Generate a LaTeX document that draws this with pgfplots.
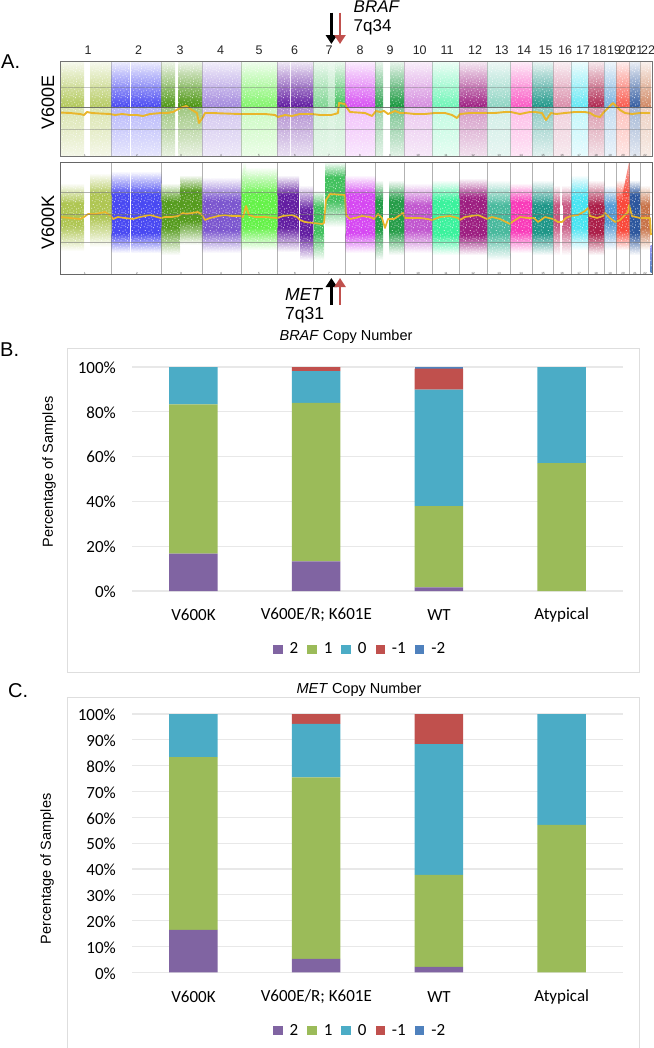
\documentclass[border=0pt]{standalone}
\usepackage{fontspec}
\usepackage{pgfplots}
\usepackage{pgfplotstable}
\pgfplotsset{compat=1.18}
\usetikzlibrary{arrows.meta,patterns}
\setmainfont{Liberation Sans}
\newfontfamily\calib{Carlito}
\newcommand{\fs}[1]{\fontsize{#1bp}{#1bp}\selectfont}

\definecolor{cA}{HTML}{A4BE3C}\definecolor{cB}{HTML}{3030F0}\definecolor{cC}{HTML}{3F8E00}
\definecolor{cD}{HTML}{6A40C8}\definecolor{cE}{HTML}{50F030}\definecolor{cF}{HTML}{4E0095}
\definecolor{cG}{HTML}{28B848}\definecolor{cH}{HTML}{D030F0}\definecolor{cI}{HTML}{089030}
\definecolor{cJ}{HTML}{B840C8}\definecolor{cK}{HTML}{20F090}\definecolor{cL}{HTML}{900070}
\definecolor{cM}{HTML}{30B090}\definecolor{cN}{HTML}{F820B0}\definecolor{cO}{HTML}{008878}
\definecolor{cP}{HTML}{C04070}\definecolor{cQ}{HTML}{30E0F0}\definecolor{cR}{HTML}{A00030}
\definecolor{cS}{HTML}{4090D0}\definecolor{cT}{HTML}{F83020}\definecolor{cU}{HTML}{104090}
\definecolor{cV}{HTML}{C06030}
\definecolor{orangeline}{HTML}{E9B62C}
\definecolor{purp}{HTML}{8064A2}\definecolor{gree}{HTML}{9BBB59}\definecolor{teal2}{HTML}{4BACC6}
\definecolor{redd}{HTML}{C0504D}\definecolor{blu}{HTML}{4F81BD}
\definecolor{frm}{HTML}{DEDEDE}\definecolor{grd}{HTML}{E8E8E8}

% fixed grain tile laid over the panels, so that the bands do not read as flat blocks
\pgfdeclarepatternformonly{grain}{\pgfqpoint{0bp}{0bp}}{\pgfqpoint{13bp}{13bp}}{\pgfqpoint{13bp}{13bp}}{%
  \foreach \a/\b in {1/2,4/1,7/3,11/1,2/5,5/6,9/5,12/7,0.5/8,3.5/9,7/8,10/10,2/12,6/11,8.5/12.5,12/4,5/3.5,9/2}{%
    \pgfpathrectangle{\pgfqpoint{\a bp}{\b bp}}{\pgfqpoint{0.8bp}{0.8bp}}\pgfusepath{fill}}%
}

% upper panel: x0 x1 colour peak-strength low-strength
\newcommand{\upseg}[5]{%
  \addplot[draw=none,top color=#3!8,bottom color=#3!#4] coordinates {(#1,61)(#2,61)(#2,107)(#1,107)};
  \addplot[draw=none,top color=#3!#5,bottom color=#3!12] coordinates {(#1,107)(#2,107)(#2,156)(#1,156)};
}
% lower panel: x0 x1 top coretop corebottom bottom colour
\newcommand{\lowseg}[7]{%
  \pgfmathsetmacro\ta{#3-5}\pgfmathsetmacro\tb{#4+5}%
  \pgfmathsetmacro\ba{#5-5}\pgfmathsetmacro\bb{#6+5}%
  \addplot[draw=none,top color=white,bottom color=#7!88] coordinates {(#1,\ta)(#2,\ta)(#2,\tb)(#1,\tb)};
  \addplot[draw=none,fill=#7!88] coordinates {(#1,\tb)(#2,\tb)(#2,\ba)(#1,\ba)};
  \addplot[draw=none,top color=#7!88,bottom color=white] coordinates {(#1,\ba)(#2,\ba)(#2,\bb)(#1,\bb)};
}

\pgfplotstableread{
idx two one zero mone mtwo
0 16.7 66.6 16.7 0 0
1 13.2 70.8 14.2 1.8 0
2 1.6 36.3 52.0 9.4 0.7
3 0 57.1 42.9 0 0
}\dataB
\pgfplotstableread{
idx two one zero mone mtwo
0 16.4 66.9 16.7 0 0
1 5.2 70.3 20.7 3.8 0
2 2.1 35.6 50.6 11.7 0
3 0 57.1 42.9 0 0
}\dataC

\pgfplotsset{
  stackchart/.style={
    scale only axis,width=491bp,
    ybar stacked,bar width=48.5bp,
    xmin=-0.5,xmax=3.5,ymin=0,ymax=100,
    xtick={0,1,2,3},xticklabels={},yticklabels={},
    axis line style={draw=none},
    tick style={draw=none},
    ymajorgrids,grid style={grd,line width=1.1bp},
    legend columns=5,
    legend cell align=left,
    legend image code/.code={\path[##1,draw=none] (0bp,-4.5bp) rectangle (9.5bp,4.5bp);},
    legend style={draw=none,fill=none,font=\calib\fs{17},inner sep=0pt,
      /tikz/every even column/.style={column sep=7bp},
      /tikz/every odd column/.style={column sep=5bp}},
  },
  chromaxis/.style={
    scale only axis,width=591.7bp,xmin=60.3,xmax=652,y dir=reverse,
    axis on top,clip=true,
    xtick={111.7,161.5,201.8,240.8,277.5,313,345.7,375.3,404.2,432,459.5,487.2,510.7,532.4,553.4,571,588.3,604.5,616.5,629.7,640},
    xticklabels={},
    xmajorgrids,ymajorgrids,
    tick style={draw=none},
    extra x ticks={85,137,181,221,259,295,329,360,390,418,446,473,499,521,543,562,579,596,610,623,635,645},
    extra x tick labels={1,2,3,4,5,6,7,8,9,10,11,12,13,14,15,16,17,18,19,20,21,22},
    extra x tick style={grid=none,tick style={draw=none},major tick length=0pt,
       tick label style={font=\fs{3},text=black!70,yshift=1.5bp,inner sep=0pt}},
  },
}

\begin{document}
\begin{tikzpicture}
\path[use as bounding box] (0bp,0bp) rectangle (654bp,-1048bp);

% ---------- Panel A, V600E
\begin{axis}[chromaxis,at={(60.3bp,-156bp)},anchor=south west,height=95bp,ymin=61,ymax=156,
  ytick={87,129},
  axis line style={draw=black!55,line width=.6bp},
  grid style={draw=black!60,opacity=.35,line width=.5bp},
  extra y ticks={107},
  extra y tick labels={},
  extra y tick style={grid style={draw=black!70,line width=.5bp,opacity=.75}},
  yticklabels={}]
\upseg{60.3}{84}{cA}{85}{42}
\upseg{90.3}{111.7}{cA}{80}{42}
\upseg{111.7}{129.5}{cB}{88}{35}
\upseg{131}{161.7}{cB}{88}{35}
\upseg{161.7}{175}{cC}{92}{50}
\upseg{178}{202}{cC}{95}{50}
\upseg{202}{241}{cD}{62}{30}
\upseg{241}{277.7}{cE}{72}{30}
\upseg{277.7}{290}{cF}{90}{45}
\upseg{291}{313.3}{cF}{90}{45}
\upseg{313.3}{328}{cG}{60}{22}
\upseg{328}{335.5}{cG}{38}{18}
\upseg{335.5}{345.7}{cG}{90}{22}
\upseg{345.7}{375.3}{cH}{85}{30}
\upseg{375.3}{383}{cI}{85}{40}
\upseg{390}{404.3}{cI}{95}{55}
\upseg{404.3}{432.7}{cJ}{60}{28}
\upseg{432.7}{459.3}{cK}{65}{28}
\upseg{459.3}{487.3}{cL}{88}{40}
\upseg{487.3}{511}{cM}{55}{22}
\upseg{511}{532.7}{cN}{75}{30}
\upseg{532.7}{553.7}{cO}{88}{45}
\upseg{553.7}{571}{cP}{60}{25}
\upseg{571}{588.3}{cQ}{75}{30}
\upseg{588.3}{604.7}{cR}{85}{40}
\upseg{604.7}{616.7}{cS}{70}{30}
\upseg{616.7}{630}{cT}{80}{30}
\upseg{630}{640}{cU}{85}{38}
\upseg{640}{651}{cV}{75}{30}
\addplot[draw=none,pattern=grain,pattern color=white] coordinates {(60.3,61)(652,61)(652,156)(60.3,156)};
\addplot[orangeline,line width=1.9bp,line join=round] coordinates {
(60,112.5)(70,113)(80,114)(84,115)(87,112)(92,113)(100,113.5)(110,114)(115,115)(122,114)(130,115)(137,115)(143,116)(150,114)(161,113)(167,113)(173,112)(180,108)(186,106)(192,110)(197,113)(199,123)(203,117)(205,113)(212,113)(225,113.5)(240,114)(250,114)(265,114)(275,115)(278,117)(285,115)(292,116)(300,114)(312,114)(320,115)(331,115)(335,114)(338,113)(339,103)(345,104)(347,108)(350,112)(365,113)(372,116)(376,111)(380,112)(384,111)(388,114)(395,111)(400,113)(405,113)(415,114)(425,114)(435,113)(445,113)(452,115)(457,118)(460,114)(470,113)(486,113)(495,113)(505,112)(511,112)(520,114)(530,112)(535,112)(542,113)(546,120)(551,113)(556,114)(565,113)(575,112)(585,112)(590,113)(595,116)(600,117)(604,112)(610,106)(613,103)(616,106)(620,110)(625,113)(632,114)(640,113)(650,113)};
\end{axis}

% ---------- Panel A, V600K
\begin{axis}[chromaxis,at={(60.3bp,-274bp)},anchor=south west,height=112bp,ymin=162,ymax=274,
  ytick={192,214,242},
  axis line style={draw=black!60,line width=.7bp},
  grid style={draw=black!55,opacity=.55,line width=.6bp},
  extra x tick style={grid=none},
  yticklabels={}]
\lowseg{60.3}{84}{188}{198}{230}{246}{cA}
\lowseg{90}{111.7}{178}{190}{222}{242}{cA}
\lowseg{111.7}{129.5}{176}{190}{238}{248}{cB}
\lowseg{131}{161.5}{176}{190}{238}{248}{cB}
\lowseg{161.5}{180}{188}{196}{232}{250}{cC}
\lowseg{180}{201.8}{180}{186}{226}{240}{cC}
\lowseg{201.8}{240.8}{182}{195}{235}{248}{cD}
\lowseg{240.8}{277.5}{172}{190}{232}{245}{cE}
\lowseg{277.5}{299}{180}{190}{232}{247}{cF}
\lowseg{300}{313}{190}{205}{240}{255}{cF}
\lowseg{313.5}{324}{195}{202}{238}{255}{cG}
\lowseg{325}{345.7}{167}{172}{205}{222}{cG}
\lowseg{345.7}{375.3}{180}{190}{238}{248}{cH}
\lowseg{375.3}{383}{185}{195}{235}{255}{cI}
\lowseg{389}{404.2}{185}{195}{236}{250}{cI}
\lowseg{404.2}{432}{188}{200}{235}{248}{cJ}
\lowseg{432}{459.5}{185}{195}{240}{250}{cK}
\lowseg{459.5}{487.2}{183}{193}{240}{250}{cL}
\lowseg{487.2}{510.7}{185}{200}{238}{255}{cM}
\lowseg{510.7}{532.4}{188}{197}{236}{248}{cN}
\lowseg{532.4}{553.4}{185}{200}{238}{250}{cO}
\lowseg{553.4}{560}{190}{200}{230}{250}{cP}
\lowseg{562.5}{571}{190}{200}{230}{250}{cP}
\lowseg{571}{588.3}{180}{192}{232}{245}{cQ}
\lowseg{588.3}{604.5}{185}{200}{238}{250}{cR}
\lowseg{604.5}{616.5}{190}{200}{228}{245}{cS}
\lowseg{616.5}{629.7}{185}{195}{235}{245}{cT}
\lowseg{630}{640}{185}{190}{238}{250}{cU}
\lowseg{640.5}{650}{190}{200}{233}{245}{cV}
% narrow features: chromosome 5 spike, chromosome 20 wedge, end of 22
\addplot[draw=none,top color=white,bottom color=cE!70] coordinates {(243,162)(246,162)(246,192)(243,192)};
\addplot[draw=none,top color=cT!40,bottom color=cT!90] coordinates {(629,162)(630,162)(630,197)(622,197)};
\addplot[draw=none,top color=cB!50,bottom color=blu] coordinates {(650.5,245)(652,245)(652,272)(650.5,272)};
\addplot[draw=none,pattern=grain,pattern color=white] coordinates {(60.3,162)(652,162)(652,274)(60.3,274)};
\addplot[orangeline,line width=1.7bp,line join=round] coordinates {
(60,217)(70,218)(80,219)(84,217)(88,214)(95,214)(100,213)(105,212)(111,216)(113,219)(118,217)(125,218)(133,219)(140,217)(150,215)(157,217)(161,218)(165,217)(172,217)(178,216)(183,213)(187,214)(192,213)(198,212)(202,215)(205,220)(210,218)(218,216)(225,215)(232,216)(240,216)(243,217)(246,206)(249,215)(255,217)(265,217)(277,218)(283,216)(292,215)(297,217)(300,220)(305,222)(313,223)(322,224)(324,223)(326,200)(330,194)(345,195)(346,215)(350,219)(355,218)(362,216)(370,217)(374,219)(378,214)(382,218)(385,228)(388,219)(394,219)(400,215)(403,213)(405,218)(412,218)(420,218)(428,219)(432,220)(440,217)(450,216)(458,218)(460,220)(465,217)(478,215)(487,219)(492,217)(500,219)(510,224)(512,222)(520,217)(528,218)(534,218)(538,222)(545,217)(553,219)(558,222)(562,222)(566,218)(571,216)(578,215)(585,211)(588,208)(590,216)(597,218)(603,216)(605,213)(610,218)(615,222)(620,220)(628,212)(629,205)(632,216)(640,218)(650,218)(651,235)};
\end{axis}

% ---------- Panel A texts and arrows
\foreach \px/\lab in {88/1,138.5/2,180/3,220.5/4,259/5,294.5/6,329/7,360/8,390/9,419.7/10,447/11,475/12,501.7/13,524/14,545.6/15,565/16,583/17,599.6/18,614/19,625.5/20,636.4/21,648/22}
  \node[font=\fs{12.5},inner sep=0pt,text=black!85] at (\px bp,-50bp) {\lab};
\node[font=\fs{20},anchor=west,inner sep=0pt] at (1bp,-62bp) {A.};
\node[font=\fs{18},rotate=90,inner sep=0pt] at (48bp,-102.5bp) {V600E};
\node[font=\fs{18},rotate=90,inner sep=0pt] at (48bp,-222.5bp) {V600K};
\node[font=\fs{17}\itshape,anchor=west,inner sep=0pt] at (353.5bp,-7bp) {BRAF};
\node[font=\fs{17},anchor=west,inner sep=0pt] at (353.5bp,-27bp) {7q34};
\node[font=\fs{17.5}\itshape,anchor=west,inner sep=0pt] at (285bp,-294bp) {MET};
\node[font=\fs{17.5},anchor=west,inner sep=0pt] at (285bp,-315bp) {7q31};
\draw[black,line width=2.6bp,-{Triangle[width=11bp,length=9bp]}] (331.4bp,-12.5bp)--(331.4bp,-44bp);
\draw[redd,line width=2.6bp,-{Triangle[width=11bp,length=9bp]}] (340bp,-12.5bp)--(340bp,-44bp);
\draw[black,line width=2.6bp,-{Triangle[width=11bp,length=9bp]}] (331.4bp,-305bp)--(331.4bp,-278bp);
\draw[redd,line width=2.6bp,-{Triangle[width=11bp,length=9bp]}] (340bp,-305bp)--(340bp,-278bp);

% ---------- Panel B
\draw[frm,line width=1bp] (67bp,-348bp) rectangle (639bp,-672bp);
\node[font=\fs{20},anchor=west,inner sep=0pt] at (0bp,-350bp) {B.};
\node[font=\fs{14.5},inner sep=0pt] at (346bp,-337bp) {\textit{BRAF} Copy Number};
\node[font=\fs{14.5},rotate=90,inner sep=0pt] at (49bp,-472bp) {Percentage of Samples};
\begin{axis}[stackchart,at={(132bp,-591bp)},anchor=south west,height=224bp,
  ytick={0,20,40,60,80,100},
  legend style={at={(141bp,-58bp)},anchor=west},
  clip=false]
\addplot[fill=purp,draw=none] table[x=idx,y=two]{\dataB};
\addplot[fill=gree,draw=none] table[x=idx,y=one]{\dataB};
\addplot[fill=teal2,draw=none] table[x=idx,y=zero]{\dataB};
\addplot[fill=redd,draw=none] table[x=idx,y=mone]{\dataB};
\addplot[fill=blu,draw=none] table[x=idx,y=mtwo]{\dataB};
\legend{2,1,0,-1,-2}
\end{axis}
\foreach \v in {0,20,40,60,80,100}
  \node[font=\calib\fs{17},anchor=east,inner sep=0pt] at (116bp,{-591bp+2.24bp*\v-0.5bp}) {\v\%};
\foreach \px/\lab in {193.5/V600K,316.3/{V600E/R; K601E},439/WT,561.7/Atypical}
  \node[font=\calib\fs{17},inner sep=0pt] at (\px bp,-615bp) {\lab};

% ---------- Panel C
\draw[frm,line width=1bp] (67bp,-1049bp)--(67bp,-697bp)--(639bp,-697bp)--(639bp,-1049bp);
\node[font=\fs{20},anchor=west,inner sep=0pt] at (8bp,-691bp) {C.};
\node[fill=white,font=\fs{14.5},inner sep=0pt] at (359bp,-690bp) {\textit{MET} Copy Number};
\node[font=\fs{14.5},rotate=90,inner sep=0pt] at (47bp,-869bp) {Percentage of Samples};
\begin{axis}[stackchart,at={(132bp,-972.3bp)},anchor=south west,height=258.3bp,
  ytick={0,10,20,30,40,50,60,70,80,90,100},
  legend style={at={(141bp,-58bp)},anchor=west},
  clip=false]
\addplot[fill=purp,draw=none] table[x=idx,y=two]{\dataC};
\addplot[fill=gree,draw=none] table[x=idx,y=one]{\dataC};
\addplot[fill=teal2,draw=none] table[x=idx,y=zero]{\dataC};
\addplot[fill=redd,draw=none] table[x=idx,y=mone]{\dataC};
\addplot[fill=blu,draw=none] table[x=idx,y=mtwo]{\dataC};
\legend{2,1,0,-1,-2}
\end{axis}
\foreach \v in {0,10,20,30,40,50,60,70,80,90,100}
  \node[font=\calib\fs{17},anchor=east,inner sep=0pt] at (116bp,{-972.3bp+2.583bp*\v-1bp}) {\v\%};
\foreach \px/\lab in {193.5/V600K,316.3/{V600E/R; K601E},439/WT,561.7/Atypical}
  \node[font=\calib\fs{17},inner sep=0pt] at (\px bp,-997bp) {\lab};
\end{tikzpicture}
\end{document}
